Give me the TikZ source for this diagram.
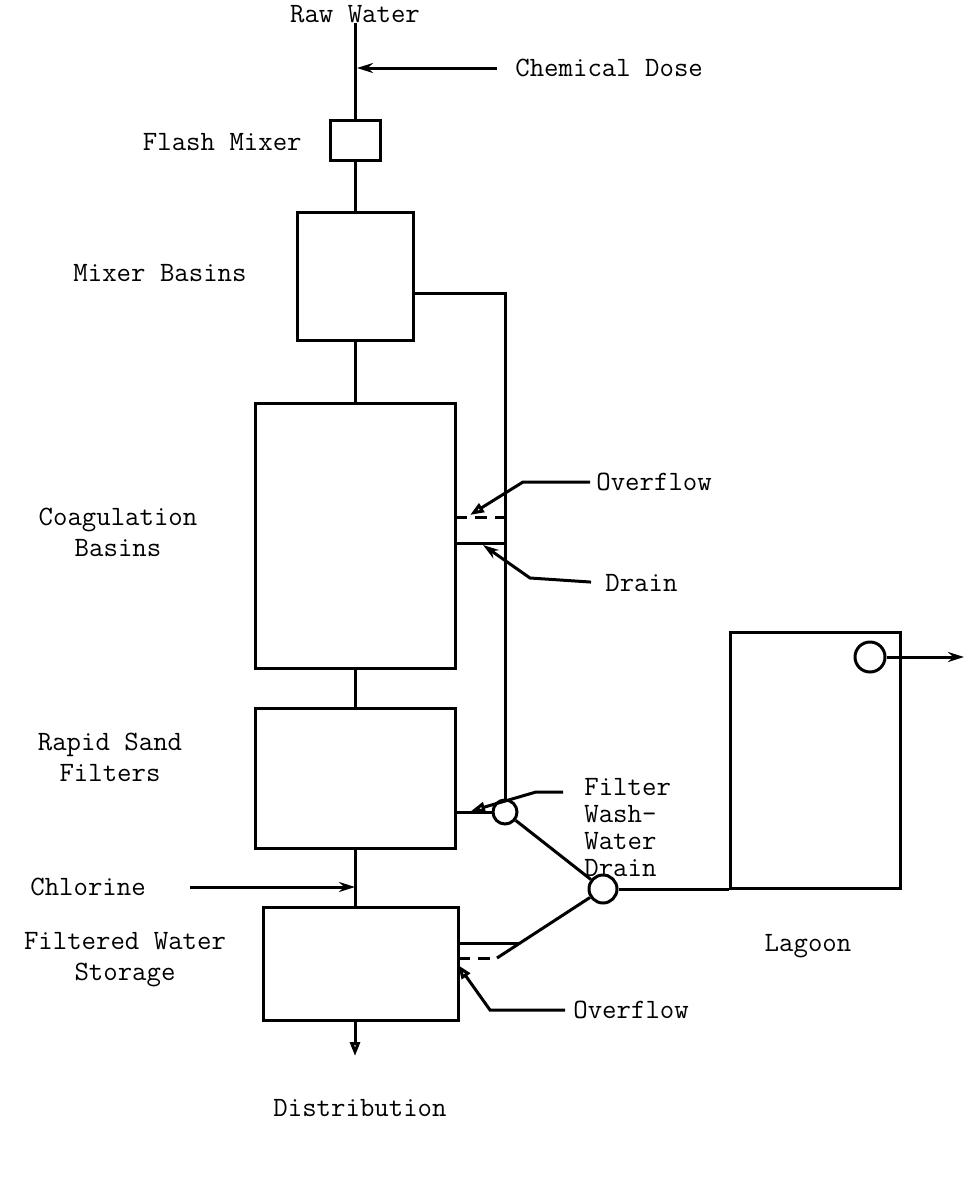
\documentclass[tikz,border=0pt]{standalone}
\usetikzlibrary{arrows.meta}
\begin{document}
\begin{tikzpicture}[x=0.5pt,y=-0.5pt,
  every node/.style={font=\ttfamily\fontsize{14}{15.5}\selectfont, inner sep=0pt},
  box/.style={draw, line width=1.5pt, minimum width=#1},
  pipe/.style={line width=1.5pt},
  fillarrow/.style={line width=1.5pt, -{Stealth[length=8pt,width=5pt]}},
  openarrow/.style={line width=1.5pt, -{Triangle[open,length=7pt,width=5pt]}},
  valve/.style={circle, draw, line width=1.5pt, minimum size=#1},
  dsh/.style={line width=1.5pt, dash pattern=on 6pt off 4pt},
  lbl/.style={align=center},
  lblw/.style={anchor=west, align=left}]
\useasboundingbox (0,0) rectangle (967,1183);

% labels
\node[lbl] (raw) at (355,14) {Raw Water};
\node[lblw] (chem) at (515,68) {Chemical Dose};
\node[anchor=east] (fmt) at (302,142) {Flash Mixer};
\node[lbl] (mbt) at (160,273) {Mixer Basins};
\node[lbl] (cbt) at (118,532) {Coagulation\\Basins};
\node[lblw] (ov1) at (596,482) {Overflow};
\node[lblw] (dr) at (605,583) {Drain};
\node[lbl] (rsft) at (110,757) {Rapid Sand\\Filters};
\node[lblw, font=\ttfamily\fontsize{14}{13.5}\selectfont] (fw) at (584,828) {Filter\\Wash-\\Water\\Drain};
\node[lblw] (chl) at (30,887) {Chlorine};
\node[lbl] (fwst) at (125,960) {Filtered Water\\Storage};
\node[lblw] (ov2) at (573,1010) {Overflow};
\node[lbl] (lagt) at (808,946) {Lagoon};
\node[lbl] (dist) at (360,1108) {Distribution};

% boxes
\node[box=25pt, minimum height=20pt] (fm) at (355,140) {};
\node[box=58pt, minimum height=64pt] (mb) at (355,276) {};
\node[box=100pt, minimum height=132.5pt] (cb) at (355,535.5) {};
\node[box=100pt, minimum height=70pt] (rsf) at (355,778) {};
\node[box=97.5pt, minimum height=56.5pt] (fws) at (360.5,963.5) {};
\node[box=85pt, minimum height=128pt] (lag) at (815,760) {};

% valves
\node[valve=12pt] (c1) at (505,812) {};
\node[valve=14pt] (c2) at (603,889) {};
\node[valve=15pt] (c3) at (870,657) {};

% coordinates
\coordinate (cd) at (357,68);
\coordinate (pa) at (413,293);
\coordinate (cbo1) at (455,517);
\coordinate (cbo2) at (505,517);
\coordinate (cbd1) at (455,543);
\coordinate (cbd2) at (505,543);
\coordinate (ova) at (523,482);
\coordinate (ovt) at (470,515);
\coordinate (dra) at (530,578);
\coordinate (drt) at (483,545);
\coordinate (fws0) at (563,792);
\coordinate (fwa) at (536,792);
\coordinate (fwt) at (471,811);
\coordinate (chlt) at (355,887);
\coordinate (sd1) at (458,943);
\coordinate (sd2) at (520,943);
\coordinate (so1) at (458,958);
\coordinate (so2) at (497,958);
\coordinate (ov2a) at (490,1010);
\coordinate (ov2t) at (458,965);
\coordinate (lagout) at (964,657);
\coordinate (distt) at (355,1056);

% main line
\draw[pipe] (raw.south) -- (fm.north);
\draw[fillarrow, shorten <=9pt] (chem.west) -- (cd);
\draw[pipe] (fm.south) -- (mb.north);
\draw[pipe] (mb.south) -- (cb.north);
\draw[pipe] (cb.south) -- (rsf.north);
\draw[pipe] (rsf.south) -- (rsf.south |- fws.north);
\draw[fillarrow, shorten <=22pt] (chl.east) -- (chlt);
\draw[openarrow] (fws.south -| distt) -- (distt);

% drain pipe
\draw[pipe] (pa) -| (c1.north);
\draw[dsh] (cbo1) -- (cbo2);
\draw[pipe] (cbd1) -- (cbd2);
\draw[openarrow, shorten <=3pt] (ov1.west) -- (ova) -- (ovt);
\draw[fillarrow, shorten <=7pt] (dr.west) -- (dra) -- (drt);
\draw[pipe] (rsf.east |- c1.west) -- (c1.west);
\draw[openarrow] (fws0) -- (fwa) -- (fwt);
\draw[pipe] (c1) -- (c2);
\draw[pipe] (c2.east) -- (c2.east -| lag.west);
\draw[pipe] (c2) -- (so2);
\draw[pipe] (sd1) -- (sd2);
\draw[dsh] (so1) -- (so2);
\draw[openarrow, shorten <=4pt] (ov2.west) -- (ov2a) -- (ov2t);
\draw[fillarrow] (c3.east) -- (lagout);
\end{tikzpicture}
\end{document}
